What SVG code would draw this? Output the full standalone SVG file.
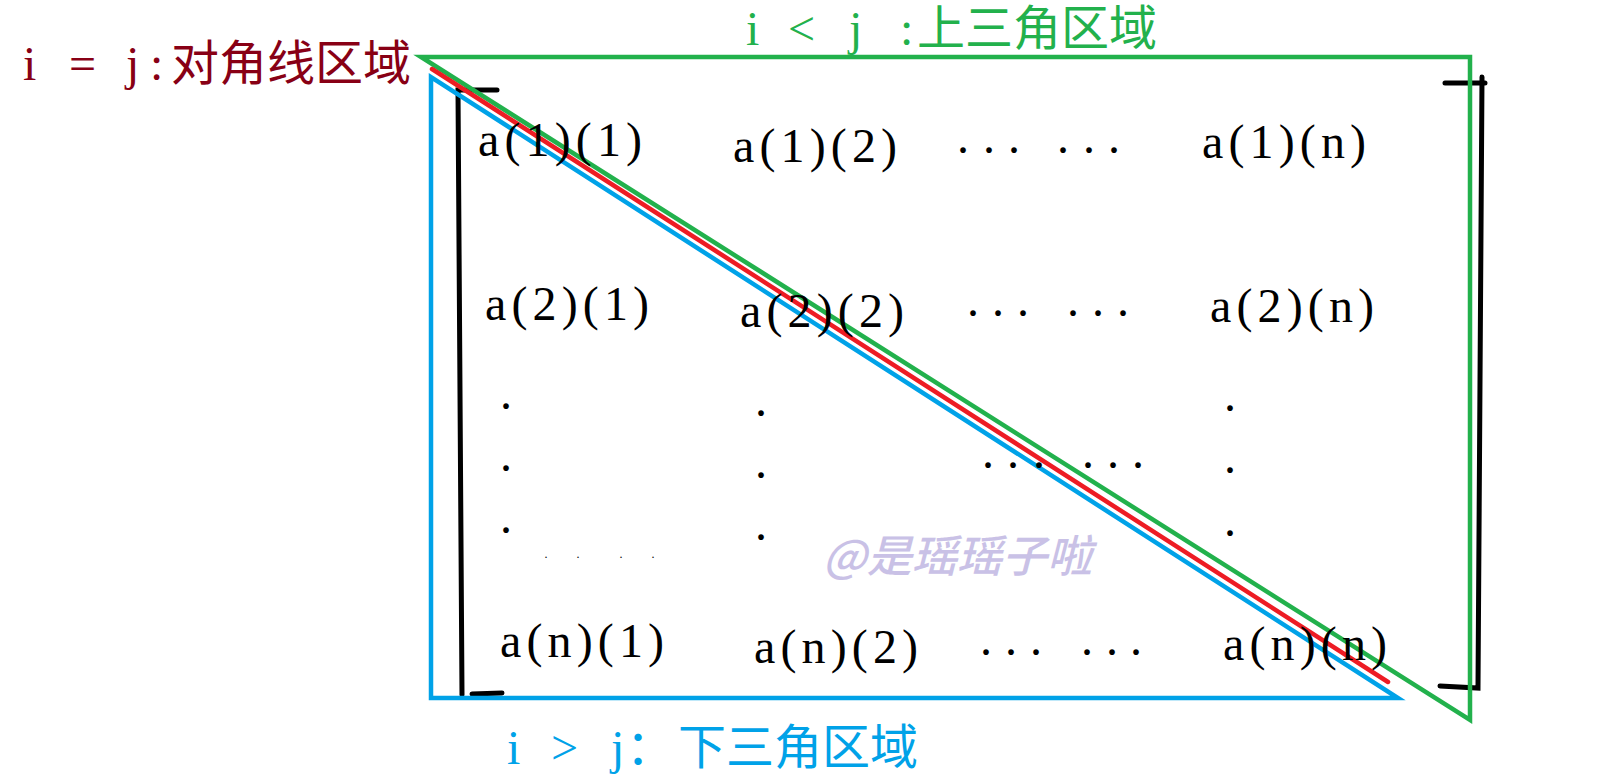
<svg xmlns="http://www.w3.org/2000/svg" width="1616" height="784" viewBox="0 0 1616 784">
  <style>
    .m { font-family: "Liberation Serif", "Times New Roman", serif; font-size: 48px; fill: #000; }
    .dot { font-family: "Liberation Serif", serif; font-size: 48px; fill: #000; text-anchor: middle; }
    .tiny { font-family: "Liberation Serif", serif; font-size: 12px; fill: #000; text-anchor: middle; }
    .lbl { font-size: 48px; }
    .lat { font-family: "Liberation Serif", serif; }
    .cjk { font-family: "Noto Sans CJK SC", sans-serif; }
    .wm { font-family: "Noto Sans CJK SC", sans-serif; font-size: 44px; font-style: italic; font-weight: 500; fill: #C9C1E6; }
    .ln { fill: none; stroke-linejoin: miter; stroke-linecap: round; }
  </style>
  <rect width="1616" height="784" fill="#ffffff"/>

  <g id="connectors">
    <path class="ln" d="M497,90 L458,90 L462,695 M472,694 L502,693" stroke="#000" stroke-width="5"/>
    <path class="ln" d="M1445,83 L1485,83 M1482,77 L1478,688 L1440,686" stroke="#000" stroke-width="5"/>
    <path class="ln" d="M421,57 L1470,57 L1470,720 Z" stroke="#22B14C" stroke-width="4.5"/>
    <path class="ln" d="M432,69 L1388,682" stroke="#ED1C24" stroke-width="4.5"/>
    <path class="ln" d="M431,77 L431,698 L1398,698 Z" stroke="#00A2E8" stroke-width="4.5"/>
  </g>

  <g id="label-diag">
    <text class="lbl" fill="#880015" y="80"><tspan class="lat" x="23">i</tspan><tspan class="lat" x="69">=</tspan><tspan class="lat" x="126">j</tspan><tspan class="lat" x="150">:</tspan><tspan class="cjk" x="171">对角线区域</tspan></text>
  </g>
  <g id="label-upper">
    <text class="lbl" fill="#22B14C" y="45"><tspan class="lat" x="746">i</tspan><tspan class="lat" x="788">&lt;</tspan><tspan class="lat" x="849">j</tspan><tspan class="lat" x="900">:</tspan><tspan class="cjk" x="917">上三角区域</tspan></text>
  </g>
  <g id="label-lower">
    <text class="lbl" fill="#00A2E8" y="764"><tspan class="lat" x="507">i</tspan><tspan class="lat" x="551">&gt;</tspan><tspan class="lat" x="611">j</tspan><tspan class="cjk" x="626">：</tspan><tspan class="cjk" x="678">下三角区域</tspan></text>
  </g>

  <g id="a11"><text class="m" x="478" y="156" textLength="164" lengthAdjust="spacing">a(1)(1)</text></g>
  <g id="a12"><text class="m" x="733" y="162" textLength="164" lengthAdjust="spacing">a(1)(2)</text></g>
  <g id="a1n"><text class="m" x="1202" y="158" textLength="164" lengthAdjust="spacing">a(1)(n)</text></g>
  <g id="a21"><text class="m" x="485" y="320" textLength="164" lengthAdjust="spacing">a(2)(1)</text></g>
  <g id="a22"><text class="m" x="740" y="327" textLength="164" lengthAdjust="spacing">a(2)(2)</text></g>
  <g id="a2n"><text class="m" x="1210" y="322" textLength="164" lengthAdjust="spacing">a(2)(n)</text></g>
  <g id="an1"><text class="m" x="500" y="657" textLength="164" lengthAdjust="spacing">a(n)(1)</text></g>
  <g id="an2"><text class="m" x="754" y="663" textLength="164" lengthAdjust="spacing">a(n)(2)</text></g>
  <g id="ann"><text class="m" x="1223" y="660" textLength="164" lengthAdjust="spacing">a(n)(n)</text></g>

  <g id="dots">
    <text class="dot" x="963 989 1014 1063 1089 1114" y="153">......</text>
    <text class="dot" x="973 998 1023 1073 1098 1123" y="316">......</text>
    <text class="dot" x="988 1013 1039 1088 1113 1138" y="468">......</text>
    <text class="dot" x="986 1011 1036 1087 1112 1136" y="655">......</text>
    <text class="dot" x="506 506 506" y="409 471 533">...</text>
    <text class="dot" x="761 761 761" y="416 478 540">...</text>
    <text class="dot" x="1230 1230 1230" y="411 473 536">...</text>
    <text class="tiny" x="546 578 621 653" y="558">....</text>
  </g>

  <g id="watermark">
    <text class="wm" x="823" y="572" textLength="269" lengthAdjust="spacingAndGlyphs">@是瑶瑶子啦</text>
  </g>
</svg>
